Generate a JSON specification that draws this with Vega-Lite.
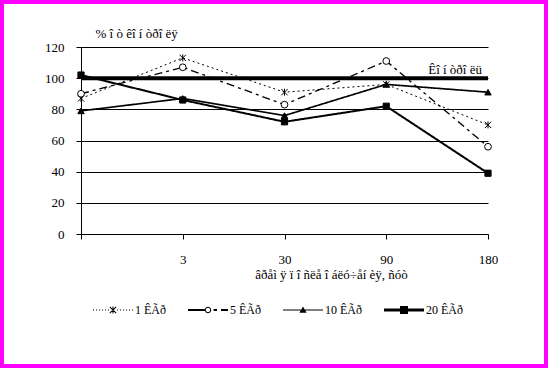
{
  "$schema": "https://vega.github.io/schema/vega-lite/v6.json",
  "width": 544,
  "height": 364,
  "autosize": {"type": "none"},
  "padding": 2,
  "background": "white",
  "config": {
    "font": "Liberation Serif",
    "view": {"stroke": "#ff00ff", "strokeWidth": 4, "fill": "white"},
    "axis": {"domainColor": "black", "tickColor": "black", "labelColor": "black", "titleColor": "black", "labelFontSize": 13, "titleFontSize": 13, "titleFontWeight": "normal", "labelFont": "Liberation Serif", "titleFont": "Liberation Serif"}
  },
  "datasets": {
    "series": [
      {"series": "1 ÊÃð", "day": "0", "value": 87},
      {"series": "1 ÊÃð", "day": "3", "value": 113},
      {"series": "1 ÊÃð", "day": "30", "value": 91},
      {"series": "1 ÊÃð", "day": "90", "value": 96},
      {"series": "1 ÊÃð", "day": "180", "value": 70},
      {"series": "5 ÊÃð", "day": "0", "value": 90},
      {"series": "5 ÊÃð", "day": "3", "value": 107},
      {"series": "5 ÊÃð", "day": "30", "value": 83},
      {"series": "5 ÊÃð", "day": "90", "value": 111},
      {"series": "5 ÊÃð", "day": "180", "value": 56},
      {"series": "10 ÊÃð", "day": "0", "value": 79},
      {"series": "10 ÊÃð", "day": "3", "value": 87},
      {"series": "10 ÊÃð", "day": "30", "value": 76},
      {"series": "10 ÊÃð", "day": "90", "value": 96},
      {"series": "10 ÊÃð", "day": "180", "value": 91},
      {"series": "20 ÊÃð", "day": "0", "value": 102},
      {"series": "20 ÊÃð", "day": "3", "value": 86},
      {"series": "20 ÊÃð", "day": "30", "value": 72},
      {"series": "20 ÊÃð", "day": "90", "value": 82},
      {"series": "20 ÊÃð", "day": "180", "value": 39}
    ],
    "control": [
      {"day": "0", "value": 100, "label": ""},
      {"day": "180", "value": 100, "label": "Êî í òðî ëü"}
    ]
  },
  "data": {"name": "series"},
  "encoding": {
    "x": {
      "field": "day", "type": "ordinal",
      "scale": {"type": "point", "domain": ["0", "3", "30", "90", "180"], "range": [79, 486], "padding": 0},
      "axis": {"title": "âðåì ÿ ï î ñëå î áëó÷åí èÿ, ñóò", "offset": -132, "labelAngle": 0, "labelExpr": "datum.value == '0' ? '' : datum.value", "labelOverlap": false, "tickSize": 5, "labelPadding": 14, "grid": false, "titleX": 329, "titleY": 44, "titleAlign": "center", "titleBaseline": "alphabetic"}
    },
    "y": {
      "field": "value", "type": "quantitative",
      "scale": {"domain": [0, 120], "range": [232, 45], "nice": false, "zero": true},
      "axis": {"title": "% î ò êî í òðî ëÿ", "offset": -79, "values": [0, 20, 40, 60, 80, 100, 120], "tickSize": 5, "labelPadding": 12, "grid": true, "gridColor": "black", "gridWidth": 1, "gridOpacity": 1, "titleAngle": 0, "titleAlign": "left", "titleBaseline": "alphabetic", "titleX": 14, "titleY": 35}
    }
  },
  "layer": [
    {
      "mark": {"type": "line", "color": "black"},
      "encoding": {
        "strokeDash": {"field": "series", "type": "nominal", "scale": {"domain": ["1 ÊÃð", "5 ÊÃð", "10 ÊÃð", "20 ÊÃð"], "range": [[2, 3], [8, 4, 3, 4], [1, 0], [1, 0]]}, "legend": null},
        "strokeWidth": {"field": "series", "type": "ordinal", "scale": {"domain": ["1 ÊÃð", "5 ÊÃð", "10 ÊÃð", "20 ÊÃð"], "range": [1, 2, 1, 3]}, "legend": null}
      }
    },
    {
      "data": {"name": "control"},
      "mark": {"type": "line", "color": "black", "strokeWidth": 4},
      "encoding": {}
    },
    {
      "data": {"name": "control"},
      "mark": {"type": "text", "align": "right", "baseline": "alphabetic", "dx": -6, "dy": -4, "fontSize": 13, "color": "black", "font": "Liberation Serif"},
      "encoding": {
        "text": {"field": "label"}
      }
    },
    {
      "mark": {"type": "point", "stroke": "black", "strokeWidth": 1, "opacity": 1, "filled": false},
      "encoding": {
        "shape": {"field": "series", "type": "nominal", "scale": {"domain": ["1 ÊÃð", "5 ÊÃð", "10 ÊÃð", "20 ÊÃð"], "range": ["M0,-1L0,1M-0.9,-0.9L0.9,0.9M-0.9,0.9L0.9,-0.9", "circle", "triangle-up", "square"]}, "legend": null},
        "fill": {"field": "series", "type": "nominal", "scale": {"domain": ["1 ÊÃð", "5 ÊÃð", "10 ÊÃð", "20 ÊÃð"], "range": ["transparent", "white", "black", "black"]}, "legend": null},
        "size": {"field": "series", "type": "ordinal", "scale": {"domain": ["1 ÊÃð", "5 ÊÃð", "10 ÊÃð", "20 ÊÃð"], "range": [49, 38, 40, 64]}, "legend": null}
      }
    },
    {
      "transform": [{"filter": "datum.value < 0"}],
      "mark": {"type": "point", "filled": true, "color": "black", "opacity": 1, "strokeWidth": 0},
      "encoding": {
        "shape": {"field": "series", "type": "nominal", "scale": {"domain": ["1 ÊÃð", "5 ÊÃð", "10 ÊÃð", "20 ÊÃð"], "range": [
          "M-10,-0.25h0.5v0.5h-0.5ZM-8.5,-0.25h0.5v0.5h-0.5ZM-7,-0.25h0.5v0.5h-0.5ZM-5.5,-0.25h0.5v0.5h-0.5ZM-4,-0.25h0.5v0.5h-0.5ZM-2.5,-0.25h0.5v0.5h-0.5ZM2,-0.25h0.5v0.5h-0.5ZM3.5,-0.25h0.5v0.5h-0.5ZM5,-0.25h0.5v0.5h-0.5ZM6.5,-0.25h0.5v0.5h-0.5ZM8,-0.25h0.5v0.5h-0.5ZM9.5,-0.25h0.5v0.5h-0.5ZM-0.25,-1.75H0.25V1.75H-0.25ZM-1.42,-1.78L1.78,1.42L1.42,1.78L-1.78,-1.42ZM-1.78,1.42L1.42,-1.78L1.78,-1.42L-1.42,1.78Z",
          "M-10,-0.5H-1.6V0.5H-10ZM1.6,0A1.6,1.6,0,1,1,-1.6,0A1.6,1.6,0,1,1,1.6,0ZM1.1,0A1.1,1.1,0,1,0,-1.1,0A1.1,1.1,0,1,0,1.1,0ZM2.8,-0.5H4.5V0.5H2.8ZM6.5,-0.5H10V0.5H6.5Z",
          "M-10,-0.25H10V0.25H-10ZM0,-1.7L1.8,1.4L-1.8,1.4Z",
          "M-10,-0.75H10V0.75H-10ZM-2,-2H2V2H-2Z"
        ]}, "legend": {"orient": "none", "legendX": 105, "legendY": 302, "direction": "horizontal", "title": null, "symbolSize": 16, "symbolOffset": 0, "labelOffset": 16, "columnPadding": 22, "labelFontSize": 12, "labelFont": "Liberation Serif", "labelColor": "black", "symbolFillColor": "black", "symbolStrokeWidth": 0}}
      }
    }
  ],
  "resolve": {"scale": {"shape": "independent", "fill": "independent", "strokeWidth": "independent", "strokeDash": "independent", "size": "independent"}}
}
